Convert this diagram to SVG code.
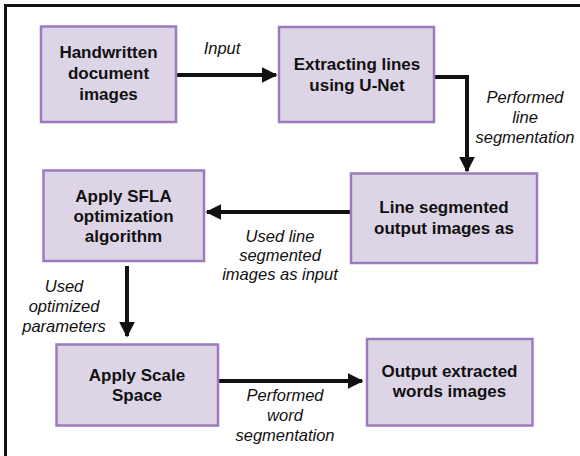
<svg xmlns="http://www.w3.org/2000/svg" width="580" height="456" viewBox="0 0 580 456">
<defs>
<marker id="ah" markerWidth="4" markerHeight="4" refX="3.6" refY="2" orient="auto" markerUnits="strokeWidth">
<path d="M0,0 L4,2 L0,4 Z" fill="#111"/>
</marker>
<style>
.box{fill:#DDD5E6;stroke:#9B7BBE;stroke-width:2.5}
.t{font-family:"Liberation Sans",Arial,sans-serif;font-weight:bold;font-size:17px;fill:#111;text-anchor:middle}
.l{font-family:"Liberation Sans",Arial,sans-serif;font-style:italic;font-size:16.5px;fill:#111;text-anchor:middle}
.c{fill:none;stroke:#111;stroke-width:4;marker-end:url(#ah)}
</style>
</defs>
<rect x="0" y="0" width="580" height="456" fill="#fff"/>
<rect x="5.5" y="5.5" width="620" height="500" fill="none" stroke="#111" stroke-width="3"/>
<g id="connectors">
<path class="c" d="M176,75 H276"/>
<path class="c" d="M434,77 H467 V171"/>
<path class="c" d="M351,212 H207"/>
<path class="c" d="M127,266 V336"/>
<path class="c" d="M218,381 H362"/>
<text class="l" x="222" y="54">Input</text>
<text class="l" x="525" y="103">Performed</text>
<text class="l" x="525" y="123">line</text>
<text class="l" x="525" y="143">segmentation</text>
<text class="l" x="280" y="242">Used line</text>
<text class="l" x="280" y="261">segmented</text>
<text class="l" x="280" y="280">images as input</text>
<text class="l" x="64" y="292">Used</text>
<text class="l" x="64" y="312">optimized</text>
<text class="l" x="64" y="332">parameters</text>
<text class="l" x="285" y="401">Performed</text>
<text class="l" x="285" y="421">word</text>
<text class="l" x="285" y="441">segmentation</text>
</g>
<g id="n1">
<rect class="box" x="41" y="26.5" width="135" height="95.5"/>
<text class="t" x="108.5" y="58">Handwritten</text>
<text class="t" x="108.5" y="79">document</text>
<text class="t" x="108.5" y="100">images</text>
</g>
<g id="n2">
<rect class="box" x="279" y="27" width="155" height="95"/>
<text class="t" x="357" y="70">Extracting lines</text>
<text class="t" x="357" y="91">using U-Net</text>
</g>
<g id="n3">
<rect class="box" x="351" y="173.5" width="186" height="89.5"/>
<text class="t" x="444" y="213">Line segmented</text>
<text class="t" x="444" y="234">output images as</text>
</g>
<g id="n4">
<rect class="box" x="43.5" y="170.5" width="160.5" height="90.5"/>
<text class="t" x="123.5" y="202">Apply SFLA</text>
<text class="t" x="123.5" y="222">optimization</text>
<text class="t" x="123.5" y="242">algorithm</text>
</g>
<g id="n5">
<rect class="box" x="56.5" y="344.5" width="161.5" height="81"/>
<text class="t" x="137" y="381">Apply Scale</text>
<text class="t" x="137" y="401">Space</text>
</g>
<g id="n6">
<rect class="box" x="367" y="339" width="165.5" height="86.5"/>
<text class="t" x="449.5" y="377">Output extracted</text>
<text class="t" x="449.5" y="397">words images</text>
</g>
</svg>
